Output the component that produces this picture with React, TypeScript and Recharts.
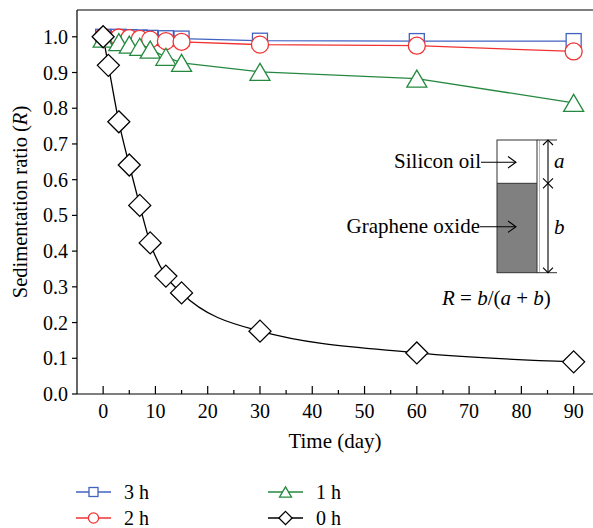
import React from 'react';
import { ComposedChart, Line, XAxis, YAxis, ReferenceLine } from 'recharts';

// sampling days (0 h series has an extra day-1 reading)
const DAYS = [0, 3, 5, 7, 9, 12, 15, 30, 60, 90];
const DAYS_0H = [0, 1, 3, 5, 7, 9, 12, 15, 30, 60, 90];

// sedimentation ratio R
const R_3H = [1.0, 1.0, 0.999, 0.998, 0.997, 0.996, 0.995, 0.989, 0.988, 0.988];
const R_2H = [1.0, 0.998, 0.996, 0.994, 0.992, 0.988, 0.986, 0.978, 0.975, 0.959];
const R_1H = [0.995, 0.985, 0.978, 0.972, 0.964, 0.944, 0.927, 0.902, 0.883, 0.815];
const R_0H = [1.0, 0.92, 0.762, 0.641, 0.528, 0.423, 0.33, 0.283, 0.176, 0.115, 0.09];

const X_TICKS = [0, 5, 10, 15, 20, 25, 30, 35, 40, 45, 50, 55, 60, 65, 70, 75, 80, 85, 90];
const Y_TICKS = [0, 0.1, 0.2, 0.3, 0.4, 0.5, 0.6, 0.7, 0.8, 0.9, 1.0];
const SERIES = ['3 h', '2 h', '1 h', '0 h'];

const BLUE = '#4262c2';
const RED = '#f03232';
const GREEN = '#24893f';
const BLACK = '#000000';
const FONT = '"Liberation Serif", "Times New Roman", Times, serif';

const rows = (xs: number[], ys: number[]) => xs.map((day, i) => ({ day, r: ys[i] }));

type Kind = 'square' | 'circle' | 'triangle' | 'diamond';

function Marker({ kind, cx, cy, color, s = 1 }: { kind: Kind; cx: number; cy: number; color: string; s?: number }) {
  const sw = 1.3;
  if (kind === 'square') {
    const h = 7.5 * s;
    return <rect x={cx - h} y={cy - h} width={2 * h} height={2 * h} fill="#fff" stroke={color} strokeWidth={sw} />;
  }
  if (kind === 'circle') {
    return <circle cx={cx} cy={cy} r={8.5 * s} fill="#fff" stroke={color} strokeWidth={sw} />;
  }
  if (kind === 'triangle') {
    const w = 10 * s;
    const h = 8.5 * s;
    return (
      <polygon
        points={`${cx},${cy - h} ${cx - w},${cy + h} ${cx + w},${cy + h}`}
        fill="#fff"
        stroke={color}
        strokeWidth={sw}
      />
    );
  }
  const d = 11 * s;
  return (
    <polygon
      points={`${cx},${cy - d} ${cx + d},${cy} ${cx},${cy + d} ${cx - d},${cy}`}
      fill="#fff"
      stroke={color}
      strokeWidth={sw}
    />
  );
}

const dotFor = (kind: Kind, color: string) => (p: any) =>
  <g key={`${kind}-${p.index}`}><Marker kind={kind} cx={p.cx} cy={p.cy} color={color} /></g>;

function XTick(props: any) {
  const { x, y, payload } = props;
  const major = payload.value % 10 === 0;
  return (
    <g>
      <line x1={x} x2={x} y1={y} y2={y - (major ? 8 : 4)} stroke="#000" strokeWidth={1.2} />
      {major && (
        <text x={x} y={y + 24} textAnchor="middle" fontSize={20} fontFamily={FONT} fill="#000">
          {payload.value}
        </text>
      )}
    </g>
  );
}

const LEGEND = [
  { name: SERIES[0], kind: 'square' as Kind, color: BLUE, x: 76, y: 492 },
  { name: SERIES[1], kind: 'circle' as Kind, color: RED, x: 76, y: 518 },
  { name: SERIES[2], kind: 'triangle' as Kind, color: GREEN, x: 268, y: 492 },
  { name: SERIES[3], kind: 'diamond' as Kind, color: BLACK, x: 268, y: 518 },
];

function Overlay() {
  const head = (pts: number[][]) => (
    <polyline points={pts.map((p) => p.join(',')).join(' ')} fill="none" stroke="#000" strokeWidth={1.1} />
  );
  return (
    <svg
      width={593}
      height={528}
      style={{ position: 'absolute', left: 0, top: 0, pointerEvents: 'none' }}
      fontFamily={FONT}
    >
      {/* axis titles */}
      <text x={335} y={448} textAnchor="middle" fontSize={21} fill="#000">Time (day)</text>
      <text transform="translate(27,202) rotate(-90)" textAnchor="middle" fontSize={20.5} fill="#000">
        Sedimentation ratio (<tspan fontStyle="italic">R</tspan>)
      </text>

      {/* inset sketch */}
      <rect x={497} y={183.3} width={40} height={89.4} fill="#808080" />
      <rect x={497} y={140} width={40} height={132.7} fill="none" stroke="#333" strokeWidth={1} />
      <line x1={497} x2={537} y1={183.3} y2={183.3} stroke="#333" />
      <line x1={539.5} x2={539.5} y1={140} y2={272.7} stroke="#bbb" />
      <line x1={537} x2={557} y1={140} y2={140} stroke="#333" />
      <line x1={537} x2={557} y1={272.7} y2={272.7} stroke="#333" />
      <line x1={548} x2={548} y1={140} y2={272.7} stroke="#000" strokeWidth={1.1} />
      {head([[543, 145], [548, 140], [553, 145]])}
      {head([[543, 178.3], [548, 183.3], [553, 178.3]])}
      {head([[543, 188.3], [548, 183.3], [553, 188.3]])}
      {head([[543, 267.7], [548, 272.7], [553, 267.7]])}
      <text x={554} y={168} fontSize={21} fontStyle="italic" fill="#000">a</text>
      <text x={554} y={234} fontSize={21} fontStyle="italic" fill="#000">b</text>

      <text x={481} y={168} textAnchor="end" fontSize={21} fill="#000">Silicon oil</text>
      <line x1={481} x2={516} y1={162.3} y2={162.3} stroke="#000" strokeWidth={1.1} />
      {head([[508, 156.5], [516, 162.3], [508, 168]])}
      <text x={480} y={233} textAnchor="end" fontSize={21} fill="#000">Graphene oxide</text>
      <line x1={480} x2={516} y1={226.7} y2={226.7} stroke="#000" strokeWidth={1.1} />
      {head([[508, 221], [516, 226.7], [508, 232.4]])}
      <text x={442} y={305} fontSize={21} fill="#000">
        <tspan fontStyle="italic">R</tspan> = <tspan fontStyle="italic">b</tspan>/(<tspan fontStyle="italic">a</tspan> + <tspan fontStyle="italic">b</tspan>)
      </text>

      {/* legend */}
      {LEGEND.map((l) => (
        <g key={l.name}>
          <line x1={l.x} x2={l.x + 35} y1={l.y} y2={l.y} stroke={l.color} strokeWidth={1.3} />
          <Marker kind={l.kind} cx={l.x + 17.5} cy={l.y} color={l.color} s={0.6} />
          <text x={l.x + 48} y={l.y + 6.5} fontSize={20} fill="#000">{l.name}</text>
        </g>
      ))}
    </svg>
  );
}

export default function App() {
  return (
    <div style={{ position: 'relative', width: 593, height: 528, overflow: 'hidden' }}>
      <style>{'html, body { margin: 0; padding: 0; overflow: hidden; }'}</style>
      <ComposedChart width={593} height={460} margin={{ top: 10, right: 0, bottom: 0, left: 8 }}>
        <XAxis
          type="number"
          dataKey="day"
          domain={[-5, 93.7]}
          ticks={X_TICKS}
          interval={0}
          allowDataOverflow
          height={66}
          tickSize={0}
          tickMargin={0}
          tickLine={false}
          tick={<XTick />}
          axisLine={{ stroke: '#000', strokeWidth: 1.2 }}
        />
        <YAxis
          type="number"
          domain={[0, 1.075]}
          ticks={Y_TICKS}
          interval={0}
          allowDataOverflow
          width={69}
          tickSize={5}
          tickMargin={4}
          tickLine={{ stroke: '#000', strokeWidth: 1.2 }}
          axisLine={{ stroke: '#000', strokeWidth: 1.2 }}
          tick={{ fill: '#000', fontSize: 20, fontFamily: FONT }}
          tickFormatter={(v: number) => v.toFixed(1)}
        />
        <ReferenceLine y={1.075} stroke="#000" strokeWidth={1.2} />
        <Line
          data={rows(DAYS, R_3H)}
          dataKey="r"
          name={SERIES[0]}
          type="linear"
          stroke={BLUE}
          strokeWidth={1.3}
          dot={dotFor('square', BLUE)}
          isAnimationActive={false}
        />
        <Line
          data={rows(DAYS, R_2H)}
          dataKey="r"
          name={SERIES[1]}
          type="linear"
          stroke={RED}
          strokeWidth={1.3}
          dot={dotFor('circle', RED)}
          isAnimationActive={false}
        />
        <Line
          data={rows(DAYS, R_1H)}
          dataKey="r"
          name={SERIES[2]}
          type="linear"
          stroke={GREEN}
          strokeWidth={1.3}
          dot={dotFor('triangle', GREEN)}
          isAnimationActive={false}
        />
        <Line
          data={rows(DAYS_0H, R_0H)}
          dataKey="r"
          name={SERIES[3]}
          type="monotone"
          stroke={BLACK}
          strokeWidth={1.3}
          dot={dotFor('diamond', BLACK)}
          isAnimationActive={false}
        />
      </ComposedChart>
      <Overlay />
    </div>
  );
}
